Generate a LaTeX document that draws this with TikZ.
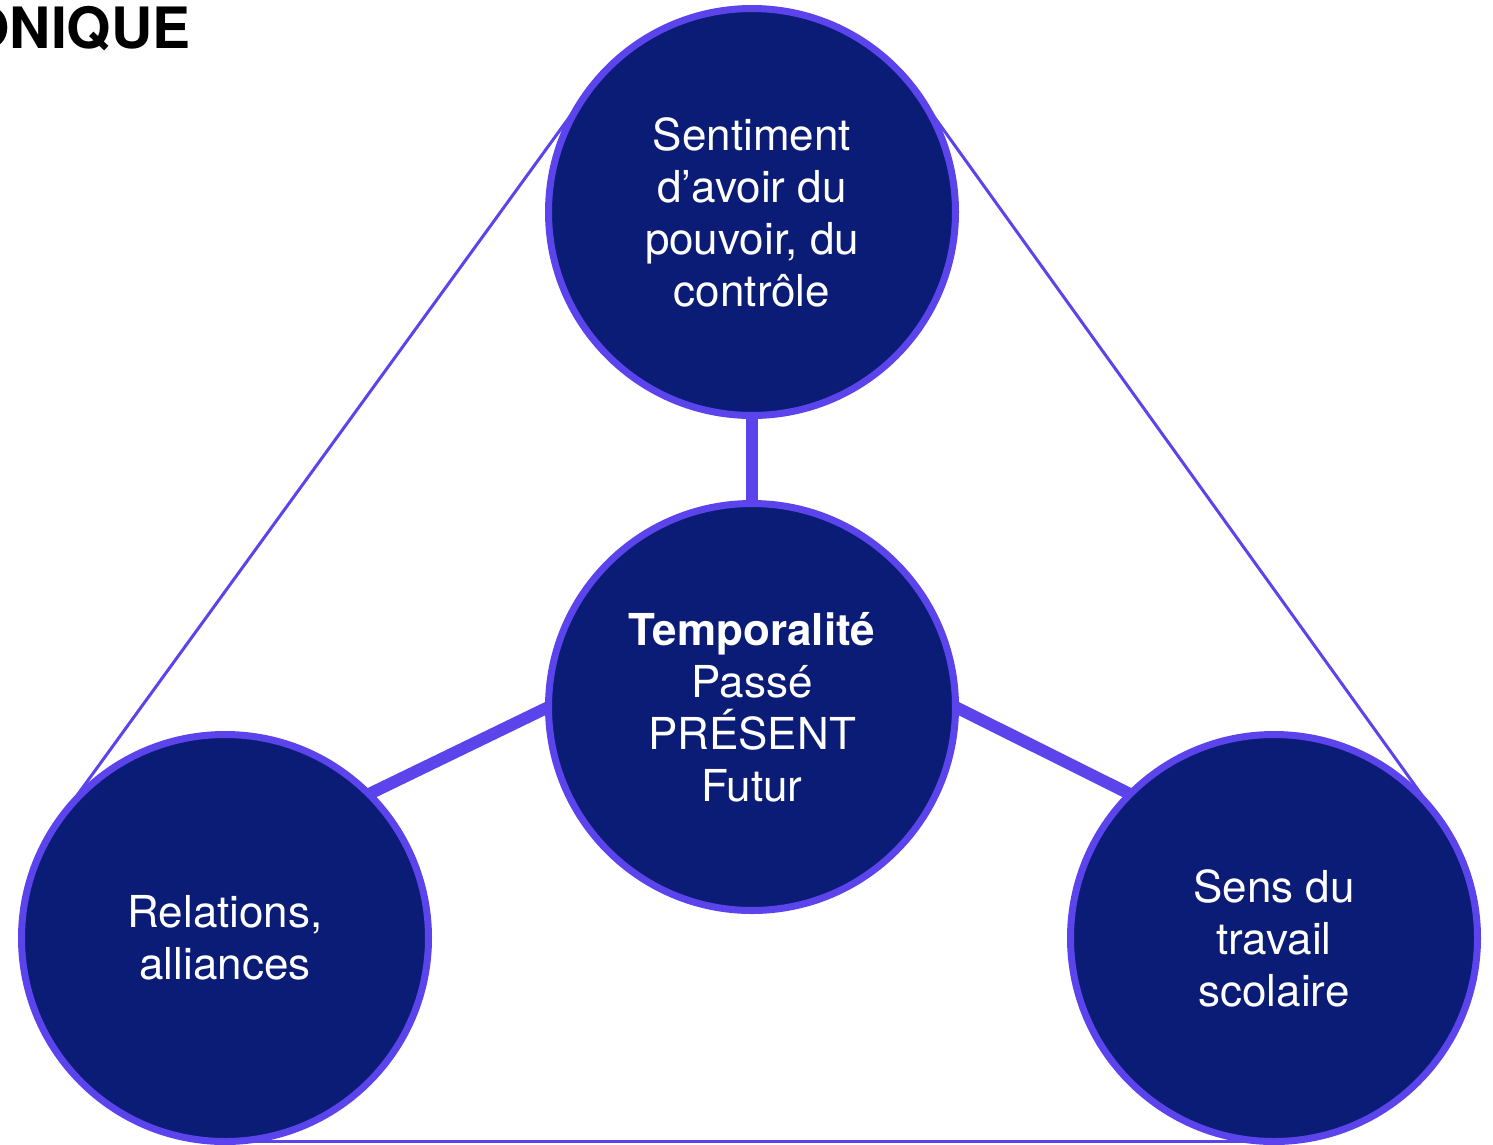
\documentclass[tikz,border=0pt]{standalone}
\usepackage{fontspec}
\setmainfont{TeX Gyre Heros}
\usepackage{xcolor}
\usetikzlibrary{backgrounds}

\definecolor{navy}{HTML}{0B1C77}
\definecolor{violet}{HTML}{5C44EC}

\begin{document}
\begin{tikzpicture}[x=1pt, y=-1pt,
  bubble/.style={circle, draw=violet, line width=7pt, fill=navy,
    minimum size=407pt, inner sep=0pt, outer sep=0pt, text=white, align=center,
    font=\fontsize{44}{52}\selectfont},
  spoke/.style={draw=violet, line width=12pt},
  edge/.style={draw=violet, line width=3pt},
]
\useasboundingbox (0,0) rectangle (1493,1144);

\node[anchor=base east, font=\fontsize{57}{60}\selectfont\bfseries] (titre) at (194,48) {ONIQUE};

\node[bubble] (pouvoir) at (752,212) {Sentiment\\d'avoir du\\pouvoir, du\\contrôle};
\node[bubble] (temps) at (752,707) {\textbf{Temporalité}\\Passé\\PRÉSENT\\Futur};
\node[bubble] (relations) at (225,938) {Relations,\\alliances};
\node[bubble] (sens) at (1274,938) {Sens du\\travail\\scolaire};

\begin{scope}[on background layer]
  % triangle autour
  \draw[edge] (pouvoir.144) -- (relations.144);
  \draw[edge] (pouvoir.36) -- (sens.36);
  \draw[edge] (relations.south) -- (sens.south);
  % rayons
  \draw[spoke] (temps.north) -- (pouvoir.south);
  \draw[spoke] (temps.west) -- (relations.45);
  \draw[spoke] (temps.east) -- (sens.135);
\end{scope}

\end{tikzpicture}
\end{document}
